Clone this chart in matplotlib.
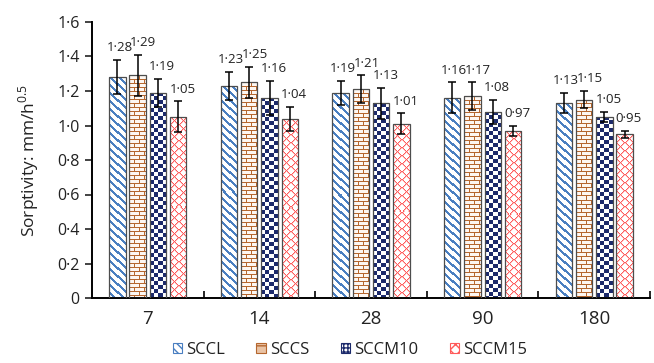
import numpy as np
import matplotlib
matplotlib.use("Agg")
import matplotlib.pyplot as plt
from matplotlib.patches import Patch

plt.rcParams["font.family"] = ["Open Sans", "DejaVu Sans"]
plt.rcParams["mathtext.fontset"] = "custom"
plt.rcParams["mathtext.rm"] = "Open Sans"
plt.rcParams["hatch.linewidth"] = 1.0

# ---------------------------------------------------------------- data
ages = ["7", "14", "28", "90", "180"]
series = ["SCCL", "SCCS", "SCCM10", "SCCM15"]
sccl = [1.28, 1.23, 1.19, 1.16, 1.13]
sccs = [1.29, 1.25, 1.21, 1.17, 1.15]
sccm10 = [1.19, 1.16, 1.13, 1.08, 1.05]
sccm15 = [1.05, 1.04, 1.01, 0.97, 0.95]
sccl_err = [0.10, 0.08, 0.07, 0.09, 0.06]
sccs_err = [0.12, 0.09, 0.08, 0.08, 0.05]
sccm10_err = [0.08, 0.10, 0.09, 0.07, 0.03]
sccm15_err = [0.09, 0.07, 0.06, 0.03, 0.02]

values = [sccl, sccs, sccm10, sccm15]
errors = [sccl_err, sccs_err, sccm10_err, sccm15_err]

BLUE = "#4a7fc1"
BROWN = "#b5672f"
NAVY = "#1c2a6b"
RED = "#ff5a5a"
OUTLINE = "#4d4d4d"
TEXT = "#222222"


def _rgb(hex_color):
    return np.array(matplotlib.colors.to_rgb(hex_color))


def pattern(kind, h_px, w_px):
    """Pixel-level fill pattern for one bar (row 0 = top)."""
    h_px = max(int(round(h_px)), 1)
    w_px = max(int(round(w_px)), 1)
    i, j = np.mgrid[0:h_px, 0:w_px]
    img = np.ones((h_px, w_px, 3))
    if kind == "stripes":
        mask = ((j - i) % 8) < 3
        img[mask] = _rgb(BLUE)
    elif kind == "brick":
        img[:] = _rgb("#fdf7f2")
        band = i // 4
        mask = (i % 4 == 0) | (((j + (band % 2) * 4) % 9) == 0)
        img[mask] = _rgb(BROWN)
    elif kind == "checker":
        mask = ((i // 4 + j // 4) % 2) == 0
        img[mask] = _rgb(NAVY)
    elif kind == "lattice":
        mask = ((i + j) % 8 == 0) | ((i - j) % 8 == 0)
        soft = ((i + j) % 8 == 1) | ((i - j) % 8 == 1)
        img[soft] = _rgb("#ffc4c4")
        img[mask] = _rgb(RED)
    return img


kinds = ["stripes", "brick", "checker", "lattice"]
label_dx = [1.5, 4, 3, 3]  # points

fig = plt.figure(figsize=(6.54, 3.63), dpi=100)
ax = fig.add_axes([92 / 654, 1 - 298 / 363, (650 - 92) / 654, (298 - 22) / 363])
ax.set_xlim(-0.5, len(ages) - 0.5)
ax.set_ylim(0, 1.6)

x = np.arange(len(ages))
bar_w = 0.147
pitch = 0.182

px_x = ax.transData.transform((1, 0))[0] - ax.transData.transform((0, 0))[0]
px_y = ax.transData.transform((0, 1))[1] - ax.transData.transform((0, 0))[1]

for k, (vals, errs, kind) in enumerate(zip(values, errors, kinds)):
    pos = x + (k - 1.5) * pitch
    bars = ax.bar(pos, vals, bar_w, facecolor="none", edgecolor=OUTLINE,
                  linewidth=0.9, zorder=3)
    for rect in bars:
        x0, w, h = rect.get_x(), rect.get_width(), rect.get_height()
        img = ax.imshow(pattern(kind, h * px_y, w * px_x), extent=(x0, x0 + w, 0, h),
                        origin="upper", interpolation="nearest", aspect="auto", zorder=2)
        img.set_clip_path(rect)
    ax.errorbar(pos, vals, yerr=errs, fmt="none", ecolor="black", elinewidth=1.1,
                capsize=3, capthick=1.1, zorder=4)
    for px, v, e in zip(pos, vals, errs):
        ax.annotate(f"{v:.2f}".replace(".", "\u00b7"), (px, v + e),
                    xytext=(label_dx[k], 4), textcoords="offset points",
                    ha="center", va="bottom", fontsize=9.5, color=TEXT, zorder=5)

ax.set_xlim(-0.5, len(ages) - 0.5)
ax.set_ylim(0, 1.6)

yticks = np.arange(0, 1.61, 0.2)
ax.set_yticks(yticks)
ax.set_yticklabels(["0"] + [f"{t:.1f}".replace(".", "\u00b7") for t in yticks[1:]], fontsize=11.5)
ax.tick_params(axis="y", length=5, width=1.2, direction="out", pad=4, colors=TEXT)

ax.set_xticks(x)
ax.set_xticklabels(ages, fontsize=13.5)
ax.tick_params(axis="x", which="major", length=0, pad=9, colors=TEXT)
ax.set_xticks(np.arange(0.5, len(ages)), minor=True)
ax.tick_params(axis="x", which="minor", length=5, width=1.2, direction="in")

for side in ["top", "right"]:
    ax.spines[side].set_visible(False)
for side in ["left", "bottom"]:
    ax.spines[side].set_linewidth(1.4)

ax.set_ylabel(r"Sorptivity: mm/h$^{\mathrm{0.5}}$", fontsize=12.5, color=TEXT)
ax.yaxis.set_label_coords(-0.092, 0.5)

handles = [
    Patch(facecolor="white", edgecolor=BLUE, hatch="\\\\\\\\", linewidth=0.8),
    Patch(facecolor="#e9c3a5", edgecolor=BROWN, hatch="--", linewidth=0.8),
    Patch(facecolor="white", edgecolor=NAVY, hatch="++++", linewidth=0.8),
    Patch(facecolor="white", edgecolor=RED, hatch="xxx", linewidth=0.8),
]
fig.legend(handles, series, loc="center", bbox_to_anchor=(0.535, 0.036), ncol=4,
           frameon=False, fontsize=12, handlelength=0.55, handleheight=0.55,
           handletextpad=0.25, columnspacing=1.9, labelcolor=TEXT)

fig.savefig("out.png", dpi=100)
